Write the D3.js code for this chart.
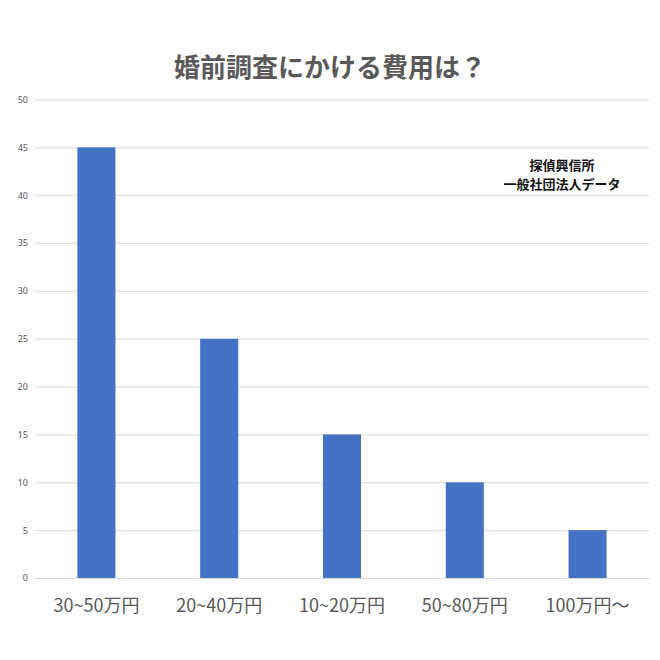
<!DOCTYPE html>
<html>
<head>
<meta charset="utf-8">
<script src="https://cdn.jsdelivr.net/npm/d3@7"></script>
<style>
  body { margin: 0; background: #fff; }
  text { font-family: "Noto Sans CJK JP", "Noto Sans", sans-serif; }
</style>
</head>
<body>
<svg id="chart" width="660" height="660"></svg>
<script>
// data
const categories = ['30~50万円', '20~40万円', '10~20万円', '50~80万円', '100万円～'];
const values = [45, 25, 15, 10, 5];
const yTicks = [0, 5, 10, 15, 20, 25, 30, 35, 40, 45, 50];
const title = '婚前調査にかける費用は？';
const sourceLines = ['探偵興信所', '一般社団法人データ'];

const BAR_COLOR = '#4472c4';
const GRID_COLOR = '#d9d9d9';
const TEXT_COLOR = '#595959';

const svg = d3.select('#chart');
const plot = { left: 35, right: 649, top: 99.5, bottom: 578 };

const x = d3.scaleBand()
  .domain(categories)
  .range([plot.left, plot.right])
  .paddingInner(0.69)
  .paddingOuter(0.345);

const y = d3.scaleLinear()
  .domain([0, 50])
  .range([plot.bottom, plot.top]);

// gridlines + y labels
const yAxis = svg.append('g')
  .attr('transform', `translate(${plot.left},0)`)
  .call(d3.axisLeft(y).tickValues(yTicks).tickSize(-(plot.right - plot.left)).tickPadding(7));
yAxis.select('.domain').remove();
yAxis.selectAll('line').attr('stroke', GRID_COLOR).attr('stroke-width', 1);
yAxis.selectAll('text')
  .attr('fill', TEXT_COLOR)
  .style('font-size', '9px')
  .style('font-family', '"Noto Sans", sans-serif');

// bars
svg.append('g')
  .selectAll('rect')
  .data(values)
  .join('rect')
  .attr('x', (d, i) => x(categories[i]))
  .attr('y', (d) => y(d))
  .attr('width', x.bandwidth())
  .attr('height', (d) => y(0) - y(d))
  .attr('fill', BAR_COLOR);

// x labels
const xAxis = svg.append('g')
  .attr('transform', `translate(0,${plot.bottom})`)
  .call(d3.axisBottom(x).tickSize(0).tickPadding(21));
xAxis.select('.domain').remove();
xAxis.selectAll('text')
  .attr('fill', TEXT_COLOR)
  .style('font-size', '18px')
  .style('font-family', '"Noto Sans CJK JP", sans-serif');

// title
svg.append('text')
  .attr('x', 330)
  .attr('y', 77)
  .attr('text-anchor', 'middle')
  .attr('fill', TEXT_COLOR)
  .style('font-size', '26px')
  .style('font-weight', 'bold')
  .text(title);

// source note
svg.append('g')
  .selectAll('text')
  .data(sourceLines)
  .join('text')
  .attr('x', 562)
  .attr('y', (d, i) => 170 + i * 19)
  .attr('text-anchor', 'middle')
  .attr('fill', '#111')
  .style('font-size', '13px')
  .style('font-weight', 'bold')
  .text((d) => d);
</script>
</body>
</html>
